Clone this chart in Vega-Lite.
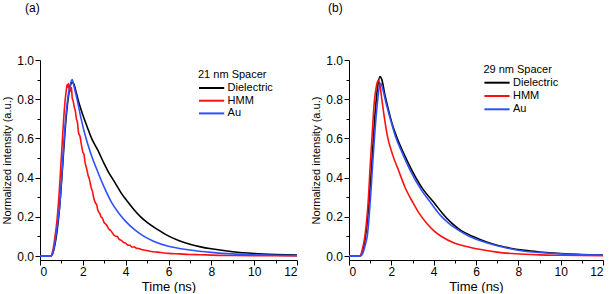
{
  "$schema": "https://vega.github.io/schema/vega-lite/v6.json",
  "padding": {"left": 1, "top": 2, "right": 0, "bottom": 0},
  "background": "white",
  "config": {
    "font": "Liberation Sans",
    "view": {"stroke": null},
    "axis": {
      "grid": false,
      "domainColor": "black",
      "domainWidth": 1,
      "tickColor": "black",
      "tickWidth": 1,
      "labelColor": "black",
      "labelFontSize": 12,
      "labelFont": "Liberation Sans",
      "titleColor": "black",
      "titleFontWeight": "normal",
      "titleFont": "Liberation Sans"
    },
    "title": {"fontWeight": "normal", "fontSize": 12, "color": "black", "font": "Liberation Sans"}
  },
  "data": {"values": [
    {"p":"a","s":"Dielectric","t":0,"v":0},{"p":"a","s":"Dielectric","t":0.5,"v":0},{"p":"a","s":"Dielectric","t":0.6,"v":0.015},{"p":"a","s":"Dielectric","t":0.7,"v":0.06},{"p":"a","s":"Dielectric","t":0.8,"v":0.13},{"p":"a","s":"Dielectric","t":0.9,"v":0.23},{"p":"a","s":"Dielectric","t":1.0,"v":0.37},{"p":"a","s":"Dielectric","t":1.1,"v":0.53},{"p":"a","s":"Dielectric","t":1.2,"v":0.68},{"p":"a","s":"Dielectric","t":1.3,"v":0.79},{"p":"a","s":"Dielectric","t":1.4,"v":0.86},{"p":"a","s":"Dielectric","t":1.5,"v":0.885},{"p":"a","s":"Dielectric","t":1.57,"v":0.88},{"p":"a","s":"Dielectric","t":1.7,"v":0.83},{"p":"a","s":"Dielectric","t":1.85,"v":0.77},{"p":"a","s":"Dielectric","t":2.0,"v":0.72},{"p":"a","s":"Dielectric","t":2.2,"v":0.66},{"p":"a","s":"Dielectric","t":2.41,"v":0.6},{"p":"a","s":"Dielectric","t":2.7,"v":0.54},{"p":"a","s":"Dielectric","t":3.0,"v":0.47},{"p":"a","s":"Dielectric","t":3.19,"v":0.43},{"p":"a","s":"Dielectric","t":3.5,"v":0.375},{"p":"a","s":"Dielectric","t":3.8,"v":0.32},{"p":"a","s":"Dielectric","t":4.04,"v":0.285},{"p":"a","s":"Dielectric","t":4.4,"v":0.235},{"p":"a","s":"Dielectric","t":4.7,"v":0.2},{"p":"a","s":"Dielectric","t":5.0,"v":0.172},{"p":"a","s":"Dielectric","t":5.5,"v":0.135},{"p":"a","s":"Dielectric","t":5.9,"v":0.108},{"p":"a","s":"Dielectric","t":6.5,"v":0.078},{"p":"a","s":"Dielectric","t":7,"v":0.06},{"p":"a","s":"Dielectric","t":7.5,"v":0.047},{"p":"a","s":"Dielectric","t":8,"v":0.037},{"p":"a","s":"Dielectric","t":9,"v":0.022},{"p":"a","s":"Dielectric","t":10,"v":0.013},{"p":"a","s":"Dielectric","t":11,"v":0.008},{"p":"a","s":"Dielectric","t":12,"v":0.005},
    {"p":"a","s":"HMM","t":0,"v":0},{"p":"a","s":"HMM","t":0.5,"v":0},{"p":"a","s":"HMM","t":0.55,"v":0.005},{"p":"a","s":"HMM","t":0.6,"v":0.03},{"p":"a","s":"HMM","t":0.65,"v":0.06},{"p":"a","s":"HMM","t":0.7,"v":0.1},{"p":"a","s":"HMM","t":0.75,"v":0.14},{"p":"a","s":"HMM","t":0.8,"v":0.19},{"p":"a","s":"HMM","t":0.86,"v":0.27},{"p":"a","s":"HMM","t":0.9,"v":0.33},{"p":"a","s":"HMM","t":0.95,"v":0.42},{"p":"a","s":"HMM","t":1.0,"v":0.51},{"p":"a","s":"HMM","t":1.06,"v":0.62},{"p":"a","s":"HMM","t":1.1,"v":0.69},{"p":"a","s":"HMM","t":1.17,"v":0.79},{"p":"a","s":"HMM","t":1.22,"v":0.84},{"p":"a","s":"HMM","t":1.27,"v":0.875},{"p":"a","s":"HMM","t":1.3,"v":0.86},{"p":"a","s":"HMM","t":1.33,"v":0.88},{"p":"a","s":"HMM","t":1.37,"v":0.85},{"p":"a","s":"HMM","t":1.4,"v":0.87},{"p":"a","s":"HMM","t":1.44,"v":0.84},{"p":"a","s":"HMM","t":1.47,"v":0.86},{"p":"a","s":"HMM","t":1.5,"v":0.81},{"p":"a","s":"HMM","t":1.55,"v":0.79},{"p":"a","s":"HMM","t":1.6,"v":0.76},{"p":"a","s":"HMM","t":1.65,"v":0.74},{"p":"a","s":"HMM","t":1.7,"v":0.7},{"p":"a","s":"HMM","t":1.75,"v":0.68},{"p":"a","s":"HMM","t":1.8,"v":0.63},{"p":"a","s":"HMM","t":1.87,"v":0.61},{"p":"a","s":"HMM","t":1.93,"v":0.57},{"p":"a","s":"HMM","t":2.0,"v":0.53},{"p":"a","s":"HMM","t":2.05,"v":0.52},{"p":"a","s":"HMM","t":2.1,"v":0.48},{"p":"a","s":"HMM","t":2.18,"v":0.445},{"p":"a","s":"HMM","t":2.25,"v":0.41},{"p":"a","s":"HMM","t":2.3,"v":0.395},{"p":"a","s":"HMM","t":2.35,"v":0.37},{"p":"a","s":"HMM","t":2.4,"v":0.345},{"p":"a","s":"HMM","t":2.45,"v":0.33},{"p":"a","s":"HMM","t":2.5,"v":0.3},{"p":"a","s":"HMM","t":2.57,"v":0.275},{"p":"a","s":"HMM","t":2.65,"v":0.26},{"p":"a","s":"HMM","t":2.7,"v":0.235},{"p":"a","s":"HMM","t":2.8,"v":0.215},{"p":"a","s":"HMM","t":2.85,"v":0.2},{"p":"a","s":"HMM","t":2.9,"v":0.195},{"p":"a","s":"HMM","t":3.0,"v":0.17},{"p":"a","s":"HMM","t":3.1,"v":0.16},{"p":"a","s":"HMM","t":3.2,"v":0.14},{"p":"a","s":"HMM","t":3.3,"v":0.13},{"p":"a","s":"HMM","t":3.4,"v":0.115},{"p":"a","s":"HMM","t":3.5,"v":0.103},{"p":"a","s":"HMM","t":3.6,"v":0.1},{"p":"a","s":"HMM","t":3.7,"v":0.085},{"p":"a","s":"HMM","t":3.8,"v":0.08},{"p":"a","s":"HMM","t":3.9,"v":0.07},{"p":"a","s":"HMM","t":4.0,"v":0.066},{"p":"a","s":"HMM","t":4.1,"v":0.056},{"p":"a","s":"HMM","t":4.2,"v":0.055},{"p":"a","s":"HMM","t":4.3,"v":0.046},{"p":"a","s":"HMM","t":4.4,"v":0.047},{"p":"a","s":"HMM","t":4.5,"v":0.04},{"p":"a","s":"HMM","t":4.6,"v":0.039},{"p":"a","s":"HMM","t":4.8,"v":0.032},{"p":"a","s":"HMM","t":5.0,"v":0.028},{"p":"a","s":"HMM","t":5.2,"v":0.023},{"p":"a","s":"HMM","t":5.5,"v":0.02},{"p":"a","s":"HMM","t":5.8,"v":0.016},{"p":"a","s":"HMM","t":6.0,"v":0.014},{"p":"a","s":"HMM","t":6.5,"v":0.011},{"p":"a","s":"HMM","t":7,"v":0.008},{"p":"a","s":"HMM","t":7.5,"v":0.007},{"p":"a","s":"HMM","t":8,"v":0.005},{"p":"a","s":"HMM","t":9,"v":0.003},{"p":"a","s":"HMM","t":10,"v":0.002},{"p":"a","s":"HMM","t":11,"v":0.002},{"p":"a","s":"HMM","t":12,"v":0.001},
    {"p":"a","s":"Au","t":0,"v":0},{"p":"a","s":"Au","t":0.5,"v":0},{"p":"a","s":"Au","t":0.6,"v":0.02},{"p":"a","s":"Au","t":0.7,"v":0.07},{"p":"a","s":"Au","t":0.8,"v":0.15},{"p":"a","s":"Au","t":0.93,"v":0.27},{"p":"a","s":"Au","t":1.04,"v":0.45},{"p":"a","s":"Au","t":1.14,"v":0.62},{"p":"a","s":"Au","t":1.28,"v":0.79},{"p":"a","s":"Au","t":1.4,"v":0.87},{"p":"a","s":"Au","t":1.5,"v":0.9},{"p":"a","s":"Au","t":1.6,"v":0.86},{"p":"a","s":"Au","t":1.75,"v":0.79},{"p":"a","s":"Au","t":1.9,"v":0.71},{"p":"a","s":"Au","t":2.1,"v":0.62},{"p":"a","s":"Au","t":2.35,"v":0.53},{"p":"a","s":"Au","t":2.64,"v":0.445},{"p":"a","s":"Au","t":3.0,"v":0.35},{"p":"a","s":"Au","t":3.34,"v":0.274},{"p":"a","s":"Au","t":3.7,"v":0.216},{"p":"a","s":"Au","t":4.0,"v":0.177},{"p":"a","s":"Au","t":4.4,"v":0.136},{"p":"a","s":"Au","t":4.82,"v":0.103},{"p":"a","s":"Au","t":5.3,"v":0.076},{"p":"a","s":"Au","t":6,"v":0.05},{"p":"a","s":"Au","t":7,"v":0.031},{"p":"a","s":"Au","t":8,"v":0.019},{"p":"a","s":"Au","t":9,"v":0.011},{"p":"a","s":"Au","t":10,"v":0.007},{"p":"a","s":"Au","t":11,"v":0.004},{"p":"a","s":"Au","t":12,"v":0.003},
    {"p":"b","s":"Dielectric","t":0,"v":0},{"p":"b","s":"Dielectric","t":0.5,"v":0},{"p":"b","s":"Dielectric","t":0.57,"v":0.005},{"p":"b","s":"Dielectric","t":0.65,"v":0.03},{"p":"b","s":"Dielectric","t":0.75,"v":0.08},{"p":"b","s":"Dielectric","t":0.85,"v":0.16},{"p":"b","s":"Dielectric","t":0.95,"v":0.28},{"p":"b","s":"Dielectric","t":1.05,"v":0.43},{"p":"b","s":"Dielectric","t":1.15,"v":0.6},{"p":"b","s":"Dielectric","t":1.25,"v":0.75},{"p":"b","s":"Dielectric","t":1.35,"v":0.86},{"p":"b","s":"Dielectric","t":1.46,"v":0.915},{"p":"b","s":"Dielectric","t":1.55,"v":0.9},{"p":"b","s":"Dielectric","t":1.7,"v":0.82},{"p":"b","s":"Dielectric","t":1.9,"v":0.73},{"p":"b","s":"Dielectric","t":2.05,"v":0.67},{"p":"b","s":"Dielectric","t":2.25,"v":0.609},{"p":"b","s":"Dielectric","t":2.6,"v":0.52},{"p":"b","s":"Dielectric","t":2.96,"v":0.44},{"p":"b","s":"Dielectric","t":3.5,"v":0.34},{"p":"b","s":"Dielectric","t":4.03,"v":0.271},{"p":"b","s":"Dielectric","t":4.4,"v":0.22},{"p":"b","s":"Dielectric","t":4.84,"v":0.169},{"p":"b","s":"Dielectric","t":5.3,"v":0.13},{"p":"b","s":"Dielectric","t":5.86,"v":0.1},{"p":"b","s":"Dielectric","t":6.5,"v":0.072},{"p":"b","s":"Dielectric","t":7,"v":0.055},{"p":"b","s":"Dielectric","t":7.5,"v":0.043},{"p":"b","s":"Dielectric","t":8.3,"v":0.029},{"p":"b","s":"Dielectric","t":9,"v":0.021},{"p":"b","s":"Dielectric","t":10,"v":0.013},{"p":"b","s":"Dielectric","t":11,"v":0.008},{"p":"b","s":"Dielectric","t":12,"v":0.005},
    {"p":"b","s":"HMM","t":0,"v":0},{"p":"b","s":"HMM","t":0.5,"v":0},{"p":"b","s":"HMM","t":0.55,"v":0.005},{"p":"b","s":"HMM","t":0.62,"v":0.03},{"p":"b","s":"HMM","t":0.75,"v":0.1},{"p":"b","s":"HMM","t":0.85,"v":0.2},{"p":"b","s":"HMM","t":0.92,"v":0.3},{"p":"b","s":"HMM","t":0.99,"v":0.44},{"p":"b","s":"HMM","t":1.1,"v":0.63},{"p":"b","s":"HMM","t":1.19,"v":0.78},{"p":"b","s":"HMM","t":1.3,"v":0.87},{"p":"b","s":"HMM","t":1.38,"v":0.897},{"p":"b","s":"HMM","t":1.45,"v":0.88},{"p":"b","s":"HMM","t":1.55,"v":0.8},{"p":"b","s":"HMM","t":1.68,"v":0.7},{"p":"b","s":"HMM","t":1.82,"v":0.609},{"p":"b","s":"HMM","t":2.05,"v":0.52},{"p":"b","s":"HMM","t":2.33,"v":0.44},{"p":"b","s":"HMM","t":2.65,"v":0.35},{"p":"b","s":"HMM","t":3.03,"v":0.271},{"p":"b","s":"HMM","t":3.3,"v":0.22},{"p":"b","s":"HMM","t":3.66,"v":0.169},{"p":"b","s":"HMM","t":4.0,"v":0.13},{"p":"b","s":"HMM","t":4.37,"v":0.1},{"p":"b","s":"HMM","t":5,"v":0.066},{"p":"b","s":"HMM","t":5.5,"v":0.05},{"p":"b","s":"HMM","t":6.1,"v":0.036},{"p":"b","s":"HMM","t":7,"v":0.02},{"p":"b","s":"HMM","t":8.3,"v":0.009},{"p":"b","s":"HMM","t":9,"v":0.006},{"p":"b","s":"HMM","t":10,"v":0.004},{"p":"b","s":"HMM","t":12,"v":0.002},
    {"p":"b","s":"Au","t":0,"v":0},{"p":"b","s":"Au","t":0.5,"v":0},{"p":"b","s":"Au","t":0.6,"v":0.005},{"p":"b","s":"Au","t":0.7,"v":0.03},{"p":"b","s":"Au","t":0.8,"v":0.07},{"p":"b","s":"Au","t":0.86,"v":0.1},{"p":"b","s":"Au","t":0.95,"v":0.2},{"p":"b","s":"Au","t":1.03,"v":0.32},{"p":"b","s":"Au","t":1.1,"v":0.44},{"p":"b","s":"Au","t":1.2,"v":0.6},{"p":"b","s":"Au","t":1.34,"v":0.78},{"p":"b","s":"Au","t":1.43,"v":0.86},{"p":"b","s":"Au","t":1.51,"v":0.88},{"p":"b","s":"Au","t":1.6,"v":0.85},{"p":"b","s":"Au","t":1.75,"v":0.78},{"p":"b","s":"Au","t":1.95,"v":0.7},{"p":"b","s":"Au","t":2.2,"v":0.609},{"p":"b","s":"Au","t":2.5,"v":0.53},{"p":"b","s":"Au","t":2.88,"v":0.44},{"p":"b","s":"Au","t":3.4,"v":0.34},{"p":"b","s":"Au","t":3.87,"v":0.271},{"p":"b","s":"Au","t":4.3,"v":0.21},{"p":"b","s":"Au","t":4.69,"v":0.169},{"p":"b","s":"Au","t":5.2,"v":0.13},{"p":"b","s":"Au","t":5.7,"v":0.1},{"p":"b","s":"Au","t":6.5,"v":0.068},{"p":"b","s":"Au","t":7.5,"v":0.04},{"p":"b","s":"Au","t":8.3,"v":0.025},{"p":"b","s":"Au","t":9,"v":0.018},{"p":"b","s":"Au","t":10,"v":0.011},{"p":"b","s":"Au","t":11,"v":0.007},{"p":"b","s":"Au","t":12,"v":0.004}
  ]},
  "spacing": 9,
  "resolve": {"scale": {"color": "independent"}, "legend": {"color": "independent"}},
  "hconcat": [
    {
      "width": 257,
      "height": 200,
      "title": {"text": "(a)", "anchor": "start", "frame": "group", "dx": -15, "offset": 39},
      "transform": [{"filter": "datum.p == 'a'"}],
      "mark": {"type": "line", "strokeWidth": 1.6, "interpolate": "monotone"},
      "encoding": {
        "x": {"field": "t", "type": "quantitative", "scale": {"domain": [0, 12], "nice": false},
          "axis": {"title": "Time (ns)", "titleFontSize": 13, "titlePadding": 3, "labelPadding": 1,
            "values": [0,1,2,3,4,5,6,7,8,9,10,11,12],
            "labelExpr": "datum.value % 2 == 0 ? datum.label : ''",
            "tickSize": {"condition": {"test": "datum.value % 2 == 0", "value": 5}, "value": 3}}},
        "y": {"field": "v", "type": "quantitative", "scale": {"domain": [-0.02, 1.0], "nice": false, "zero": false},
          "axis": {"title": "Normalized intensity (a.u.)", "titleFontSize": 11, "titlePadding": 4, "labelPadding": 1.5,
            "values": [0,0.1,0.2,0.3,0.4,0.5,0.6,0.7,0.8,0.9,1.0],
            "labelExpr": "round(datum.value*10) % 2 == 0 ? format(datum.value, '.1f') : ''",
            "tickSize": {"condition": {"test": "round(datum.value*10) % 2 == 0", "value": 5}, "value": 3}}},
        "color": {"field": "s", "type": "nominal",
          "scale": {"domain": ["Dielectric", "HMM", "Au"], "range": ["#000000", "#ff1010", "#3050ff"]},
          "legend": {"title": "21 nm Spacer", "orient": "none", "legendX": 158, "legendY": 8.5, "direction": "vertical",
            "padding": 0, "titleFontSize": 11, "titleFontWeight": "normal", "titleColor": "black", "titlePadding": 1.5,
            "labelFontSize": 11, "labelColor": "black", "labelOffset": 15.6, "rowPadding": 0.7,
            "symbolType": "M-1,0H3.2", "symbolSize": 144, "symbolStrokeWidth": 2, "symbolFillColor": "transparent"}}
      }
    },
    {
      "width": 254,
      "height": 200,
      "title": {"text": "(b)", "anchor": "start", "frame": "group", "dx": -21, "offset": 39},
      "transform": [{"filter": "datum.p == 'b'"}],
      "mark": {"type": "line", "strokeWidth": 1.6, "interpolate": "monotone"},
      "encoding": {
        "x": {"field": "t", "type": "quantitative", "scale": {"domain": [0, 12], "nice": false},
          "axis": {"title": "Time (ns)", "titleFontSize": 13, "titlePadding": 3, "labelPadding": 1,
            "values": [0,1,2,3,4,5,6,7,8,9,10,11,12],
            "labelExpr": "datum.value % 2 == 0 ? datum.label : ''",
            "tickSize": {"condition": {"test": "datum.value % 2 == 0", "value": 5}, "value": 3}}},
        "y": {"field": "v", "type": "quantitative", "scale": {"domain": [-0.02, 1.0], "nice": false, "zero": false},
          "axis": {"title": "Normalized intensity (a.u.)", "titleFontSize": 11, "titlePadding": 4, "labelPadding": 1.5,
            "values": [0,0.1,0.2,0.3,0.4,0.5,0.6,0.7,0.8,0.9,1.0],
            "labelExpr": "round(datum.value*10) % 2 == 0 ? format(datum.value, '.1f') : ''",
            "tickSize": {"condition": {"test": "round(datum.value*10) % 2 == 0", "value": 5}, "value": 3}}},
        "color": {"field": "s", "type": "nominal",
          "scale": {"domain": ["Dielectric", "HMM", "Au"], "range": ["#000000", "#ff1010", "#3050ff"]},
          "legend": {"title": "29 nm Spacer", "orient": "none", "legendX": 134.4, "legendY": 4.2, "direction": "vertical",
            "padding": 0, "titleFontSize": 11, "titleFontWeight": "normal", "titleColor": "black", "titlePadding": 0.5,
            "labelFontSize": 11, "labelColor": "black", "labelOffset": 15.6, "rowPadding": 1.3,
            "symbolType": "M-1,0H3.2", "symbolSize": 144, "symbolStrokeWidth": 2, "symbolFillColor": "transparent"}}
      }
    }
  ]
}
